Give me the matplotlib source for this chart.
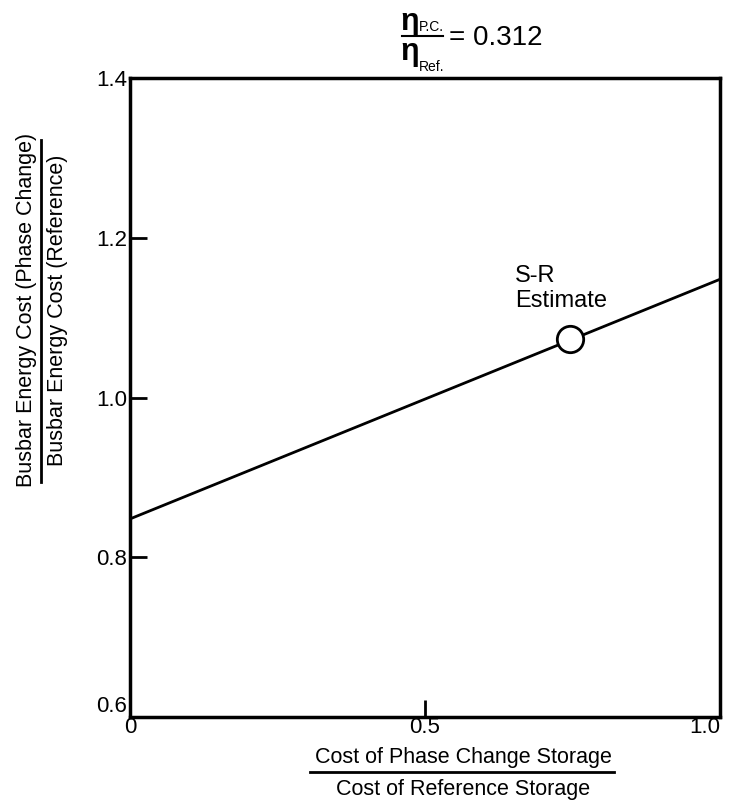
import matplotlib
matplotlib.use("Agg")
import matplotlib.pyplot as plt
from matplotlib.lines import Line2D

plt.rcParams['font.family'] = ['Liberation Sans', 'DejaVu Sans']

# data
cost_ratio = [0.0, 1.0]
energy_ratio = [0.848, 1.148]
estimate_x = [0.745]
estimate_y = [1.073]
x_ticks = [0, 0.5, 1.0]
x_tick_labels = ['0', '0.5', '1.0']
y_ticks = [0.6, 0.8, 1.0, 1.2, 1.4]
y_tick_labels = ['0.6', '0.8', '1.0', '1.2', '1.4']

W, H = 731, 806
fig = plt.figure(figsize=(W / 100, H / 100), dpi=100)
ax = fig.add_axes([130 / W, 1 - 717 / H, 590 / W, 639 / H])

ax.plot(cost_ratio, energy_ratio, color='black', lw=2)
ax.plot(estimate_x, estimate_y, 'o', ms=19, mfc='white', mec='black', mew=2, zorder=5)
ax.text(515 / W, 1 - 307 / H, 'S-R\nEstimate', fontsize=17, transform=fig.transFigure,
        ha='left', va='baseline', linespacing=1.15)

ax.set_xlim(0, 1.0)
ax.set_ylim(0.6, 1.4)
ax.set_xticks(x_ticks)
ax.set_xticklabels(x_tick_labels, fontsize=16)
ax.set_yticks(y_ticks)
ax.set_yticklabels(y_tick_labels, fontsize=16)
ax.tick_params(direction='in', length=12, width=2)
ax.tick_params(axis='x', pad=0)
ax.tick_params(axis='y', pad=2)
ax.get_xticklabels()[-1].set_horizontalalignment('right')
ax.get_yticklabels()[0].set_verticalalignment('bottom')
for s in ax.spines.values():
    s.set_linewidth(2.5)

# y axis label as a fraction
fig.text(27 / W, 1 - 310 / H, 'Busbar Energy Cost (Phase Change)', rotation=90,
         ha='center', va='center', fontsize=15.5)
fig.text(57 / W, 1 - 310 / H, 'Busbar Energy Cost (Reference)', rotation=90,
         ha='center', va='center', fontsize=15.5)
fig.add_artist(Line2D([41 / W, 41 / W], [1 - 140 / H, 1 - 482 / H],
                      color='black', lw=2, transform=fig.transFigure))

# x axis label as a fraction
fig.text(463 / W, 1 - 758 / H, 'Cost of Phase Change Storage',
         ha='center', va='center', fontsize=15.5)
fig.text(463 / W, 1 - 790 / H, 'Cost of Reference Storage',
         ha='center', va='center', fontsize=15.5)
fig.add_artist(Line2D([310 / W, 614 / W], [1 - 772 / H, 1 - 772 / H],
                      color='black', lw=2, transform=fig.transFigure))

# title: eta ratio
fig.text(410 / W, 1 - 22 / H, 'η', fontsize=22, fontweight='bold', ha='center', va='center')
fig.text(419 / W, 1 - 27 / H, 'P.C.', fontsize=10, ha='left', va='center')
fig.text(410 / W, 1 - 52 / H, 'η', fontsize=22, fontweight='bold', ha='center', va='center')
fig.text(419 / W, 1 - 67 / H, 'Ref.', fontsize=10, ha='left', va='center')
fig.add_artist(Line2D([402 / W, 443 / W], [1 - 36 / H, 1 - 36 / H],
                      color='black', lw=1.5, transform=fig.transFigure))
fig.text(449 / W, 1 - 38 / H, '= 0.312', fontsize=20, ha='left', va='center')

fig.savefig('out.png', dpi=100)
